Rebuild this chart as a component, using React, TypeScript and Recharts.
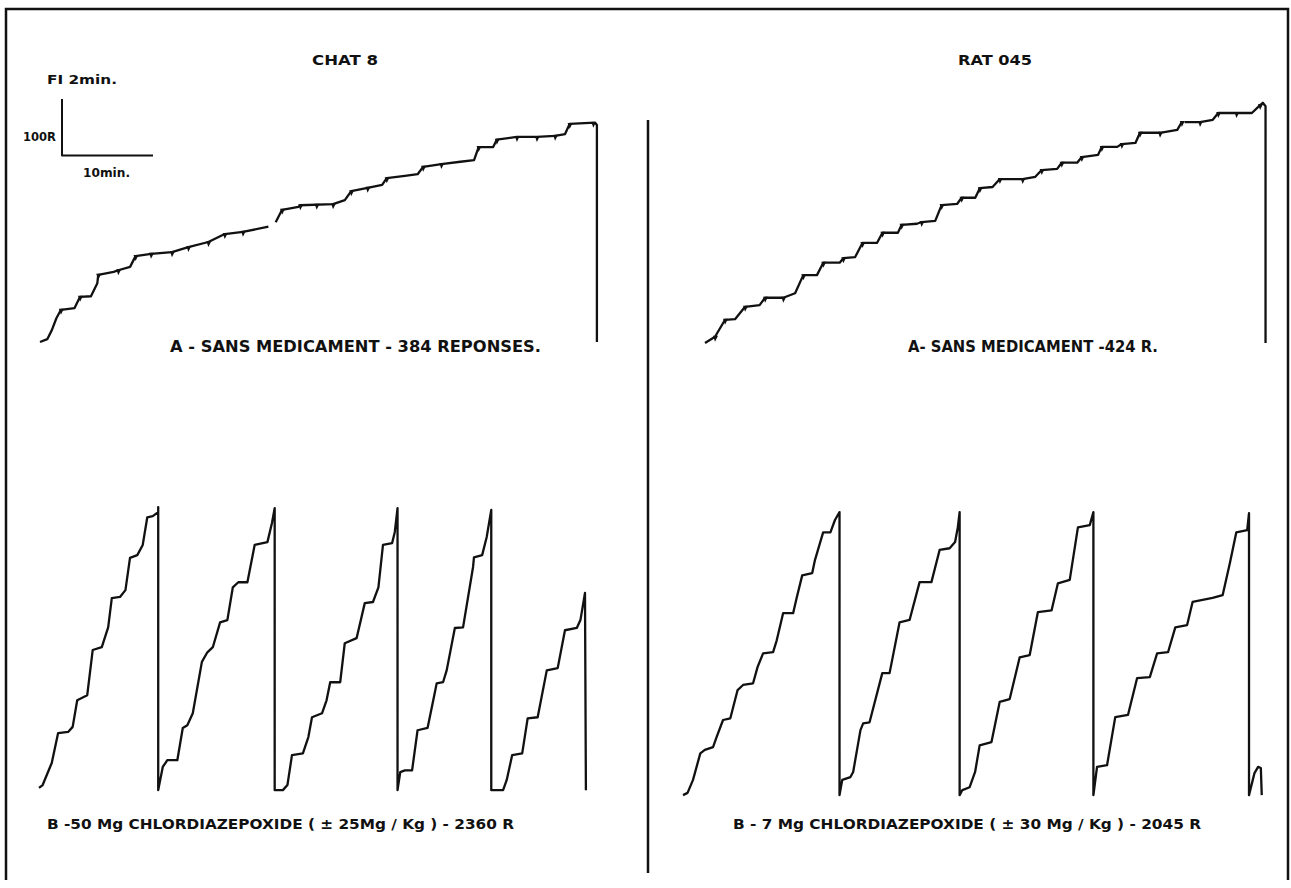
import React from "react";
import { ComposedChart, Line, Scatter, XAxis, YAxis } from "recharts";

// scale of the recorder: 10 min horizontally, 100 responses vertically
const PX_PER_MIN = 9.1;
const PX_PER_R = 0.565;

type Pt = [number, number | null];

// [minutes, cumulative responses]
const scaleBar: Pt[] = [[0, 100], [0, 0], [10, 0]];

const chatA: Pt[] = [
  [0, 0], [0.8, 5], [1.3, 21], [1.8, 42], [2.3, 57], [3.8, 60], [4.4, 80], [5.6, 81],
  [6.3, 104], [6.4, 119], [8.1, 124], [8.6, 127], [9.9, 133], [10.5, 152], [12.2, 156],
  [14.5, 159], [16.3, 168], [18.5, 177], [20.3, 191], [22.3, 195], [25.1, 204], [25.4, null],
  [25.9, 212], [26.6, 234], [28.4, 239], [28.6, 242], [32.2, 244], [33.5, 251], [34.2, 267],
  [36.0, 273], [37.6, 278], [38.1, 290], [40.1, 294], [41.5, 297], [42.1, 310], [44.1, 315],
  [46.2, 319], [47.7, 322], [48.2, 345], [49.8, 345], [50.2, 358], [52.4, 363], [54.6, 363],
  [56.6, 365], [57.7, 368], [58.2, 386], [60.4, 388], [61.0, 388], [61.2, 384], [61.2, 0],
];

// reinforcement marks on record A
const chatAPips: [number, number][] = [
  [2.3, 57], [4.4, 80], [6.4, 119], [8.6, 127], [10.5, 152], [12.2, 156], [14.5, 159],
  [16.3, 168], [18.5, 177], [20.3, 191], [22.3, 195], [26.6, 234], [28.6, 242], [30.4, 243],
  [32.2, 244], [34.2, 267], [36.0, 273], [38.1, 290], [42.1, 310], [44.1, 315], [48.2, 345],
  [50.2, 358], [52.4, 363], [54.6, 363], [56.6, 365], [58.2, 386], [60.8, 388],
];

const ratA: Pt[] = [
  [0, 0], [1.1, 11], [2.2, 41], [3.3, 42], [4.4, 64], [6.0, 67], [6.6, 80], [8.6, 80],
  [9.9, 88], [10.8, 120], [12.3, 120], [13.0, 142], [14.8, 142], [15.2, 150], [16.5, 152],
  [17.3, 177], [18.9, 177], [19.5, 195], [21.2, 195], [21.6, 209], [23.3, 211], [23.8, 214],
  [25.3, 216], [26.0, 244], [27.7, 246], [28.2, 257], [29.7, 257], [30.2, 274], [31.6, 276],
  [32.4, 290], [34.9, 290], [36.3, 294], [37.0, 306], [38.7, 308], [39.2, 319], [40.9, 319],
  [41.4, 329], [43.2, 333], [43.6, 347], [45.3, 347], [45.8, 352], [47.3, 354], [47.8, 372],
  [50.0, 372], [51.9, 377], [52.4, 391], [52.5, null], [52.7, 391], [54.4, 391], [55.8, 395],
  [56.4, 407], [60.1, 407], [61.0, 421], [61.3, 425], [61.6, 419], [61.6, 0],
];

const ratAPips: [number, number][] = [
  [1.1, 11], [2.2, 41], [4.4, 64], [6.6, 80], [8.6, 80], [10.8, 120], [13.0, 142],
  [15.2, 150], [17.3, 177], [19.5, 195], [21.6, 209], [23.8, 214], [26.0, 244], [28.2, 257],
  [30.2, 274], [32.4, 290], [34.9, 290], [37.0, 306], [39.2, 319], [41.4, 329], [43.6, 347],
  [45.8, 352], [47.8, 372], [50.0, 372], [52.4, 391], [54.4, 391], [56.4, 407], [58.4, 407],
  [61.0, 421],
];

// pen resets to zero after ~500 responses
const chatB: Pt[] = [
  [0, 4], [0.4, 9], [1.4, 48], [2.1, 101], [3.2, 103], [3.7, 112], [4.2, 159], [5.3, 168],
  [5.9, 248], [6.9, 253], [7.6, 288], [8.0, 340], [8.9, 342], [9.5, 354], [10.0, 411],
  [10.8, 416], [11.4, 434], [11.9, 483], [12.5, 485], [13.1, 492], [13.1, 501], [13.1, 0],
  [13.6, 41], [14.1, 53], [15.2, 53], [15.8, 110], [16.3, 115], [16.9, 136], [17.9, 227],
  [18.5, 244], [19.1, 253], [19.9, 297], [20.7, 301], [21.3, 359], [21.9, 368], [22.9, 368],
  [23.7, 434], [25.1, 439], [25.6, 473], [25.9, 499], [25.9, 0],
  [26.8, 0], [27.3, 9], [27.8, 62], [29.0, 65], [29.6, 94], [30.0, 129], [31.1, 136],
  [31.6, 159], [32.0, 191], [33.1, 191], [33.6, 260], [34.9, 269], [35.8, 331], [36.7, 333],
  [37.3, 359], [37.8, 434], [38.8, 437], [39.1, 457], [39.4, 499], [39.4, 0],
  [39.7, 32], [40.2, 35], [41.0, 35], [41.6, 106], [42.7, 110], [43.5, 173], [43.7, 189],
  [44.4, 191], [44.8, 212], [45.7, 287], [46.6, 288], [47.7, 395], [47.8, 412], [48.7, 416],
  [49.2, 448], [49.7, 496], [49.7, 0],
  [51.0, 0], [51.4, 18], [52.0, 62], [53.1, 65], [53.7, 127], [54.8, 129], [55.8, 212],
  [57.0, 216], [57.8, 283], [59.1, 287], [59.5, 301], [60.0, 349], [60.1, 0],
];

const ratB: Pt[] = [
  [0, 0], [0.5, 4], [1.1, 27], [1.9, 74], [2.4, 80], [3.3, 85], [3.7, 103], [4.4, 133],
  [5.2, 136], [6.0, 186], [6.6, 195], [7.7, 198], [8.2, 227], [8.8, 251], [9.9, 253],
  [10.3, 274], [11.0, 322], [12.1, 322], [12.5, 350], [13.1, 389], [14.2, 393], [14.5, 416],
  [15.4, 465], [16.2, 465], [16.7, 487], [17.2, 501], [17.2, 0],
  [17.5, 27], [18.4, 32], [18.7, 41], [19.5, 115], [19.8, 127], [20.5, 129], [21.9, 216],
  [22.7, 216], [23.8, 306], [24.9, 310], [26.0, 377], [27.3, 377], [28.2, 434], [29.3, 437],
  [29.9, 448], [30.2, 474], [30.4, 501], [30.4, 0],
  [30.7, 9], [31.5, 14], [32.1, 41], [32.6, 88], [33.9, 94], [34.8, 165], [35.9, 170],
  [37.0, 244], [38.1, 248], [39.0, 324], [40.5, 327], [41.2, 375], [42.5, 381], [43.4, 474],
  [44.7, 478], [45.1, 501], [45.1, 0],
  [45.5, 50], [46.6, 53], [47.5, 138], [48.9, 142], [49.9, 207], [51.3, 209], [52.1, 251],
  [53.3, 253], [54.1, 297], [55.4, 301], [56.0, 342], [58.2, 349], [59.3, 354], [60.1, 411],
  [60.8, 465], [62.0, 469], [62.2, 499], [62.2, 0],
  [62.8, 39], [63.2, 50], [63.5, 48], [63.6, 0],
];

// small hook left by the event pen at each reinforcement
function Pip(props: any) {
  const { cx, cy } = props;
  if (cx == null || cy == null) return null;
  return <path d={`M${cx - 2},${cy - 1} L${cx + 3},${cy - 1} L${cx},${cy + 5} Z`} fill="#111" />;
}

type RecProps = {
  points: Pt[];
  pips?: [number, number][];
  x0: number;
  y0: number;
  tMax: number;
  rMax: number;
  width?: number;
};

function Record({ points, pips, x0, y0, tMax, rMax, width = 2.3 }: RecProps) {
  const pad = 6;
  const w = tMax * PX_PER_MIN;
  const h = rMax * PX_PER_R;
  const data = points.map(([t, r]) => ({ t, r }));
  const marks = (pips ?? []).map(([t, r]) => ({ t, r }));
  return (
    <div style={{ position: "absolute", left: x0 - pad, top: y0 - h - pad }}>
      <ComposedChart
        width={w + 2 * pad}
        height={h + 2 * pad}
        data={data}
        margin={{ top: pad, right: pad, bottom: pad, left: pad }}
      >
        <XAxis dataKey="t" type="number" domain={[0, tMax]} hide />
        <YAxis type="number" domain={[0, rMax]} hide />
        <Line
          dataKey="r"
          type="linear"
          stroke="#111"
          strokeWidth={width}
          strokeLinejoin="round"
          dot={false}
          connectNulls={false}
          isAnimationActive={false}
        />
        {pips && (
          <Scatter data={marks} dataKey="r" shape={<Pip />} isAnimationActive={false} />
        )}
      </ComposedChart>
    </div>
  );
}

const txt = {
  fontFamily: "'DejaVu Sans', sans-serif",
  fontWeight: 700,
  fill: "#111",
} as const;

export default function App() {
  return (
    <div
      style={{
        position: "fixed",
        left: 0,
        top: 0,
        width: 1291,
        height: 888,
        background: "#fff",
      }}
    >
      <Record points={scaleBar} x0={62} y0={155} tMax={10} rMax={100} width={2} />
      <Record points={chatA} pips={chatAPips} x0={40} y0={342} tMax={62} rMax={400} />
      <Record points={ratA} pips={ratAPips} x0={705} y0={343} tMax={62} rMax={430} />
      <Record points={chatB} x0={39} y0={790} tMax={61} rMax={510} />
      <Record points={ratB} x0={683} y0={795} tMax={64} rMax={510} />

      <svg
        width={1291}
        height={888}
        style={{ position: "absolute", left: 0, top: 0, pointerEvents: "none" }}
      >
        <polyline points="6,880 6,9 1288,9 1288,880" fill="none" stroke="#111" strokeWidth={2.5} />
        <line x1={648} y1={120} x2={648} y2={873} stroke="#111" strokeWidth={2.5} />

        <text x={312} y={65} fontSize={14} textLength={66} lengthAdjust="spacingAndGlyphs" style={txt}>CHAT 8</text>
        <text x={958} y={65} fontSize={14} textLength={74} lengthAdjust="spacingAndGlyphs" style={txt}>RAT 045</text>
        <text x={47} y={84} fontSize={13} textLength={70} lengthAdjust="spacingAndGlyphs" style={txt}>FI 2min.</text>
        <text x={23} y={141} fontSize={13} textLength={33} lengthAdjust="spacingAndGlyphs" style={txt}>100R</text>
        <text x={83} y={177} fontSize={13} textLength={47} lengthAdjust="spacingAndGlyphs" style={txt}>10min.</text>

        <text x={170} y={352} fontSize={15} textLength={371} lengthAdjust="spacingAndGlyphs" style={txt}>
          A - SANS  MEDICAMENT  -  384 REPONSES.
        </text>
        <text x={908} y={352} fontSize={15} textLength={250} lengthAdjust="spacingAndGlyphs" style={txt}>
          A- SANS MEDICAMENT -424 R.
        </text>
        <text x={47} y={829} fontSize={14} textLength={467} lengthAdjust="spacingAndGlyphs" style={txt}>
          B -50 Mg CHLORDIAZEPOXIDE ( ± 25Mg / Kg ) - 2360 R
        </text>
        <text x={733} y={829} fontSize={14} textLength={468} lengthAdjust="spacingAndGlyphs" style={txt}>
          B - 7 Mg CHLORDIAZEPOXIDE ( ± 30 Mg / Kg ) - 2045 R
        </text>
      </svg>
    </div>
  );
}
